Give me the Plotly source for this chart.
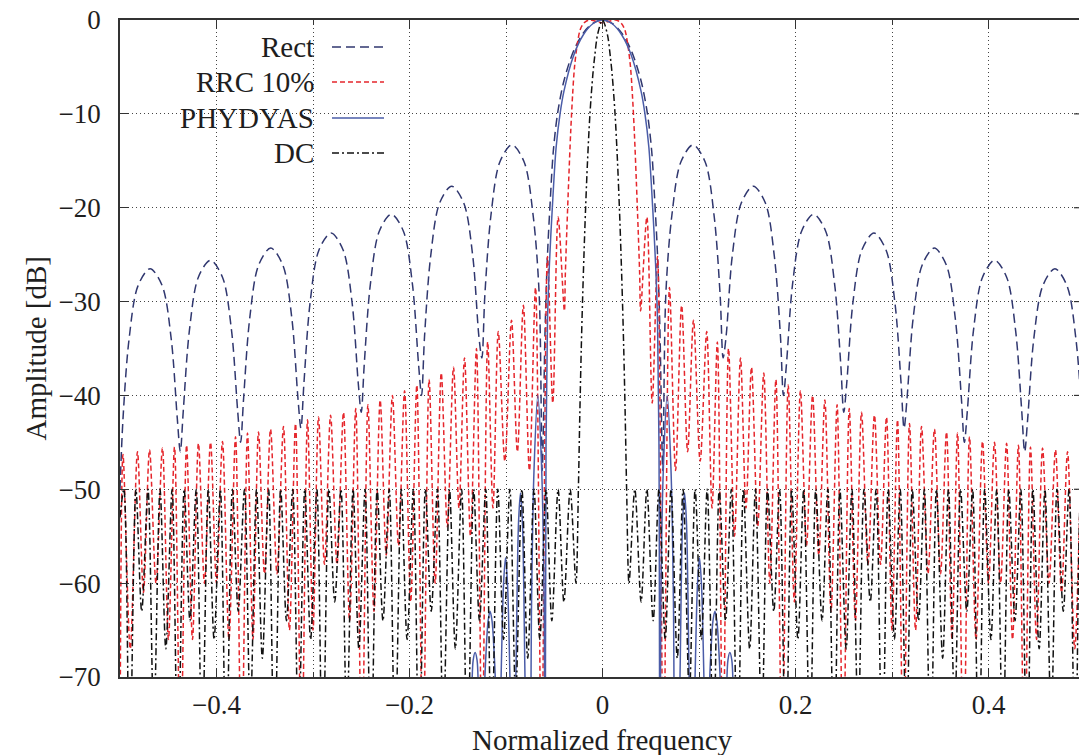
import plotly.graph_objects as go

# ---------------- data (right half, f >= 0; spectrum is symmetric) ----------------
rect_f = [0.0, 0.010, 0.020, 0.030, 0.040, 0.0466, 0.051, 0.054, 0.057, 0.0595, 0.0625,
          0.0656, 0.0719, 0.0813, 0.0938, 0.1063, 0.1156, 0.1219, 0.125,
          0.1281, 0.1344, 0.1438, 0.1563, 0.1688, 0.1781, 0.1844, 0.1875,
          0.1906, 0.1969, 0.2063, 0.2188, 0.2313, 0.2406, 0.2469, 0.25,
          0.2531, 0.2594, 0.2688, 0.2813, 0.2938, 0.3031, 0.3094, 0.3125,
          0.3156, 0.3219, 0.3313, 0.3438, 0.3563, 0.3656, 0.3719, 0.375,
          0.3781, 0.3844, 0.3938, 0.4063, 0.4188, 0.4281, 0.4344, 0.4375,
          0.4406, 0.4469, 0.4563, 0.4688, 0.4813, 0.4906, 0.4969, 0.5]
rect_db = [0.0, -0.35, -1.4, -3.3, -6.5, -10.0, -14.0, -19.0, -25.0, -33.0, -48.0,
           -29.3, -20.8, -15.1, -13.3, -15.1, -20.8, -29.3, -36.0,
           -33.7, -25.2, -19.5, -17.7, -19.5, -25.2, -33.7, -40.0,
           -36.7, -28.2, -22.5, -20.7, -22.5, -28.2, -36.7, -41.8,
           -38.7, -30.2, -24.5, -22.7, -24.5, -30.2, -38.7, -43.5,
           -40.3, -31.8, -26.1, -24.3, -26.1, -31.8, -40.3, -45.0,
           -41.6, -33.1, -27.4, -25.6, -27.4, -33.1, -41.6, -46.0,
           -42.5, -34.0, -28.3, -26.5, -28.3, -34.0, -42.5, -50.0]

rrc_f = [0.0, 0.008, 0.014, 0.019, 0.023, 0.026, 0.029, 0.031, 0.033, 0.035, 0.037, 0.0385, 0.0395,
         0.046, 0.0515, 0.057, 0.0632, 0.0694, 0.0757, 0.082, 0.0882, 0.0943, 0.1012,
         0.108, 0.1135, 0.119, 0.1248, 0.1306, 0.1368, 0.143, 0.1487, 0.1544, 0.1608,
         0.1671, 0.1734, 0.1797, 0.1861, 0.1924, 0.1988, 0.2051, 0.2114, 0.2177, 0.2241,
         0.2304, 0.2368, 0.2431, 0.2494, 0.2557, 0.2621, 0.2684, 0.2751, 0.2818, 0.2881,
         0.2943, 0.3000, 0.3057, 0.3119, 0.3181, 0.3244, 0.3306, 0.3373, 0.3440, 0.3503,
         0.3565, 0.3622, 0.3679, 0.3741, 0.3803, 0.3871, 0.3938, 0.4000, 0.4062, 0.4125,
         0.4187, 0.4249, 0.4310, 0.4373, 0.4435, 0.4498, 0.4560, 0.4627, 0.4694, 0.4757,
         0.4819, 0.4894, 0.4969, 0.5]
rrc_db = [-0.3, -0.1, 0.0, -0.3, -1.0, -2.5, -5.0, -8.0, -12.0, -17.0, -22.5, -27.0, -31.0,
          -21.0, -40.8, -25.2, -80.0, -28.5, -48.0, -30.4, -46.0, -32.0, -47.0,
          -33.2, -52.0, -34.3, -80.0, -35.0, -55.0, -36.0, -52.0, -37.0, -54.0,
          -37.6, -60.0, -38.3, -80.0, -38.9, -62.0, -39.5, -56.0, -40.0, -57.0,
          -40.5, -63.0, -41.0, -80.0, -41.4, -64.0, -41.8, -58.0, -42.1, -58.0,
          -42.3, -65.0, -42.6, -80.0, -43.0, -65.0, -43.3, -59.0, -43.6, -59.0,
          -43.9, -66.0, -44.0, -80.0, -44.4, -66.0, -44.9, -60.0, -45.0, -60.0,
          -45.1, -66.0, -45.3, -80.0, -45.5, -66.0, -45.6, -60.0, -45.8, -61.0,
          -46.0, -67.0, -46.3, -80.0]

phy_f = [0.0, 0.010, 0.020, 0.030, 0.040, 0.044, 0.048, 0.052, 0.055, 0.057, 0.0585, 0.0595,
         0.0605, 0.063, 0.067, 0.071, 0.0735, 0.0755,
         0.0800, 0.0815, 0.0830, 0.0850, 0.0870, 0.0885, 0.0900, 0.0928,
         0.0955, 0.0970, 0.0985, 0.1005, 0.1025, 0.1040, 0.1055, 0.1083,
         0.1105, 0.1125, 0.1145, 0.1165, 0.1185, 0.1205, 0.1225, 0.1245,
         0.1285, 0.1300, 0.1320, 0.1340, 0.1355, 0.1375, 0.5]
phy_db = [0.0, -0.4, -1.6, -3.8, -7.6, -10.0, -13.5, -20.0, -26.0, -32.0, -45.0, -90.0,
          -62.0, -48.0, -40.0, -48.0, -62.0, -90.0,
          -72.0, -61.0, -53.5, -50.4, -53.5, -61.0, -72.0, -90.0,
          -72.0, -65.0, -60.0, -57.3, -60.0, -65.0, -72.0, -90.0,
          -72.0, -67.0, -64.0, -63.0, -64.0, -67.0, -72.0, -90.0,
          -72.0, -68.2, -67.4, -68.2, -72.0, -90.0, -90.0]

dc_f = [0.0, 0.005, 0.008, 0.010, 0.013, 0.0155, 0.0175, 0.0192, 0.0207, 0.022, 0.0235, 0.025,
        0.0275, 0.0335, 0.0400, 0.0460, 0.0525, 0.0585, 0.0650, 0.0710, 0.0775, 0.0835,
        0.0900, 0.0960, 0.1025, 0.1085, 0.1150, 0.1210, 0.1275, 0.1335, 0.1400, 0.1460,
        0.1525, 0.1585, 0.1650, 0.1710, 0.1775, 0.1835, 0.1900, 0.1960, 0.2025, 0.2085,
        0.2150, 0.2210, 0.2275, 0.2335, 0.2400, 0.2460, 0.2525, 0.2585, 0.2650, 0.2710,
        0.2775, 0.2835, 0.2900, 0.2960, 0.3025, 0.3085, 0.3150, 0.3210, 0.3275, 0.3335,
        0.3400, 0.3460, 0.3525, 0.3585, 0.3650, 0.3710, 0.3775, 0.3835, 0.3900, 0.3960,
        0.4025, 0.4085, 0.4150, 0.4210, 0.4275, 0.4335, 0.4400, 0.4460, 0.4525, 0.4585,
        0.4650, 0.4710, 0.4775, 0.4835, 0.4900, 0.4960, 0.5]
dc_db = [0.0, -1.5, -3.8, -5.8, -10.0, -15.0, -20.0, -25.0, -30.0, -35.0, -42.0, -50.0,
         -60.0, -50.0, -62.0, -50.0, -64.0, -50.0, -66.0, -50.0, -68.0, -50.0,
         -72.0, -50.0, -66.0, -50.0, -78.0, -50.0, -64.0, -50.0, -80.0, -50.0,
         -67.0, -50.0, -76.0, -50.0, -63.0, -50.0, -80.0, -50.0, -66.0, -50.0,
         -78.0, -50.0, -64.0, -50.0, -80.0, -50.0, -67.0, -50.0, -75.0, -50.0,
         -62.0, -50.0, -80.0, -50.0, -66.0, -50.0, -77.0, -50.0, -64.0, -50.0,
         -80.0, -50.0, -68.0, -50.0, -74.0, -50.0, -63.0, -50.0, -80.0, -50.0,
         -66.0, -50.0, -78.0, -50.0, -64.0, -50.0, -80.0, -50.0, -67.0, -50.0,
         -75.0, -50.0, -63.0, -50.0, -80.0, -50.0, -53.0]

series_names = ["Rect", "RRC 10%", "PHYDYAS", "DC"]
x_tick_step = 0.2
y_tick_step = 10


def mirror(f, v):
    """Build the full symmetric spectrum from the read right half."""
    return [-a for a in f[:0:-1]] + list(f), list(v[:0:-1]) + list(v)


# ---------------- figure ----------------
W, H = 1079, 755
ML, MT, MB = 120, 20, 78
plot_w = W - ML
x_right = -0.5 + plot_w / 965.0
plot_h = H - MT - MB

FONT = "Liberation Serif"
TXT = "#1e1e1e"

styles = [
    dict(color="#30376f", dash="9px,5px"),
    dict(color="#e5262c", dash="5px,3px"),
    dict(color="#4a5ca8", dash="solid"),
    dict(color="#111111", dash="7px,3px,2px,3px"),
]
datas = [(rect_f, rect_db), (rrc_f, rrc_db), (phy_f, phy_db), (dc_f, dc_db)]

fig = go.Figure()
for name, (f, v), st in zip(series_names, datas, styles):
    xs, ys = mirror(f, v)
    fig.add_trace(go.Scatter(
        x=xs, y=ys, mode="lines", name=name, showlegend=False, hoverinfo="skip",
        line=dict(color=st["color"], width=1.5, dash=st["dash"], shape="spline", smoothing=0.9),
    ))

grid = dict(showgrid=True, gridcolor="#444444", gridwidth=1, griddash="1px,3px")

fig.update_layout(
    width=W, height=H,
    margin=dict(l=ML, r=0, t=MT, b=MB, pad=0),
    paper_bgcolor="white", plot_bgcolor="white",
    font=dict(family=FONT, size=27, color=TXT),
    xaxis=dict(
        range=[-0.5, x_right], tickmode="linear", tick0=0, dtick=x_tick_step,
        ticks="inside", ticklen=9, tickwidth=1.2, tickcolor="#333333",
        showline=True, linecolor="#333333", linewidth=1.5, mirror="ticks",
        zeroline=False, ticklabelstandoff=3,
        tickfont=dict(family=FONT, size=27, color=TXT),
        minor=dict(dtick=0.1, tick0=0, ticks="inside", ticklen=5, tickcolor="#333333",
                   **grid),
        **grid,
    ),
    yaxis=dict(
        range=[-70, 0], tickmode="linear", tick0=0, dtick=y_tick_step,
        ticks="inside", ticklen=9, tickwidth=1.2, tickcolor="#333333",
        showline=True, linecolor="#333333", linewidth=1.5, mirror=False,
        zeroline=False, ticklabelstandoff=12,
        tickfont=dict(family=FONT, size=27, color=TXT),
        **grid,
    ),
)

# axis titles
fig.add_annotation(text="Normalized frequency", xref="x", yref="paper", x=0.0,
                   y=-(740 - (MT + plot_h)) / plot_h, xanchor="center", yanchor="middle",
                   showarrow=False, font=dict(family=FONT, size=29, color=TXT))
fig.add_annotation(text="Amplitude [dB]", xref="paper", yref="paper",
                   x=(35 - ML) / plot_w, y=0.5, textangle=-90,
                   xanchor="center", yanchor="middle", showarrow=False,
                   font=dict(family=FONT, size=29, color=TXT))

# legend (labels right-aligned, line samples to the right, as in the original)
leg_y_px = [47, 82, 118, 153]
for name, st, ypx in zip(series_names, styles, leg_y_px):
    yp = (MT + plot_h - ypx) / plot_h
    fig.add_annotation(text=name, xref="paper", yref="paper", x=(316 - ML) / plot_w, y=yp,
                       xanchor="right", yanchor="middle", showarrow=False,
                       font=dict(family=FONT, size=29, color=TXT))
    fig.add_shape(type="line", xref="paper", yref="paper",
                  x0=(332 - ML) / plot_w, x1=(384 - ML) / plot_w, y0=yp, y1=yp,
                  line=dict(color=st["color"], width=1.5, dash=st["dash"]))

# right-border tick stubs (border itself lies just outside the picture)
for yv in range(-60, 0, 10):
    fig.add_shape(type="line", xref="paper", yref="y", x0=1 - 5 / plot_w, x1=1,
                  y0=yv, y1=yv, line=dict(color="#333333", width=1.2))

fig.write_html("out.html")
